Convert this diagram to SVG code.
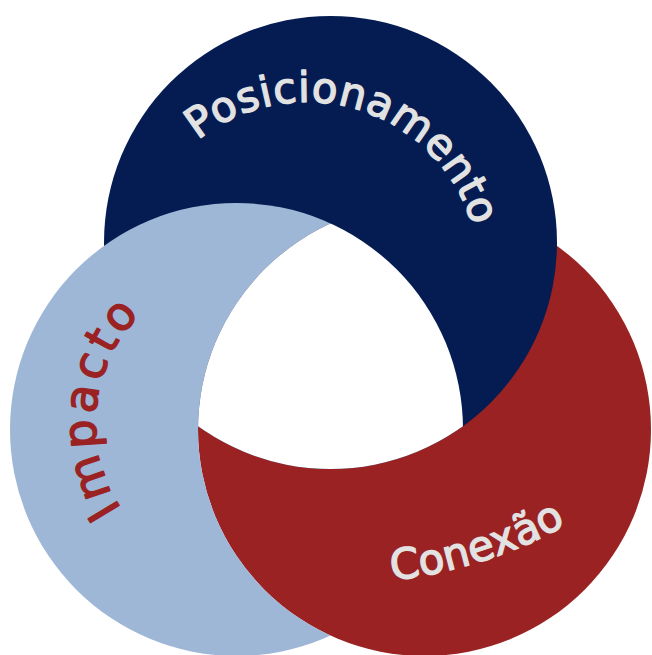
<svg xmlns="http://www.w3.org/2000/svg" width="652" height="655" viewBox="0 0 652 655">
  <style>
    .navy { fill: #051c53; }
    .lblue { fill: #9fb7d6; }
    .red { fill: #9a2222; }
    .lbl { font-family: "DejaVu Sans", "Liberation Sans", sans-serif; stroke-width: 1.4; stroke-linejoin: round; stroke-linecap: round; }
    .light { fill: #e2e2e2; stroke: #e2e2e2; }
    .dark { fill: #9a2222; stroke: #9a2222; }
  </style>
  <defs>
    <clipPath id="clipNavy"><circle cx="330.5" cy="242.5" r="226.5"/></clipPath>
    <clipPath id="clipLB"><circle cx="236.5" cy="429.5" r="226.5"/></clipPath>
    <clipPath id="clipOutsideRed"><path clip-rule="evenodd" d="M -10 -10 H 662 V 665 H -10 Z M 198 429.5 A 226.5 226.5 0 1 0 651 429.5 A 226.5 226.5 0 1 0 198 429.5 Z"/></clipPath>
    <path id="arcPos" d="M 197.7 140.4 A 173 173 0 0 1 478.9 259.7" fill="none"/>
    <path id="arcImp" d="M 123.7 512.1 A 155 155 0 0 1 147.0 308.0" fill="none"/>
    <path id="arcCon" d="M 392 580 A 454 454 0 0 0 586.4 512.8" fill="none"/>
  </defs>
  <rect width="652" height="655" fill="#ffffff"/>
  <g id="shapes">
    <g id="circle-conexao"><circle class="red" cx="424.5" cy="429.5" r="226.5"/></g>
    <g id="circle-posicionamento"><circle class="navy" cx="330.5" cy="242.5" r="226.5"/></g>
    <g id="circle-impacto" clip-path="url(#clipOutsideRed)"><circle class="lblue" cx="236.5" cy="429.5" r="226.5"/></g>
    <g id="center" clip-path="url(#clipNavy)"><g clip-path="url(#clipLB)"><circle fill="#ffffff" cx="424.5" cy="429.5" r="226.5"/></g></g>
  </g>
  <g id="node-posicionamento">
    <text class="lbl light" font-size="42"><textPath href="#arcPos" textLength="340" lengthAdjust="spacing">Posicionamento</textPath></text>
  </g>
  <g id="node-impacto">
    <text class="lbl dark" font-size="46"><textPath href="#arcImp" startOffset="3.8" textLength="211" lengthAdjust="spacing">Impacto</textPath></text>
  </g>
  <g id="node-conexao">
    <text class="lbl light" font-size="42"><textPath href="#arcCon" textLength="184" lengthAdjust="spacing">Conexão</textPath></text>
  </g>
</svg>
